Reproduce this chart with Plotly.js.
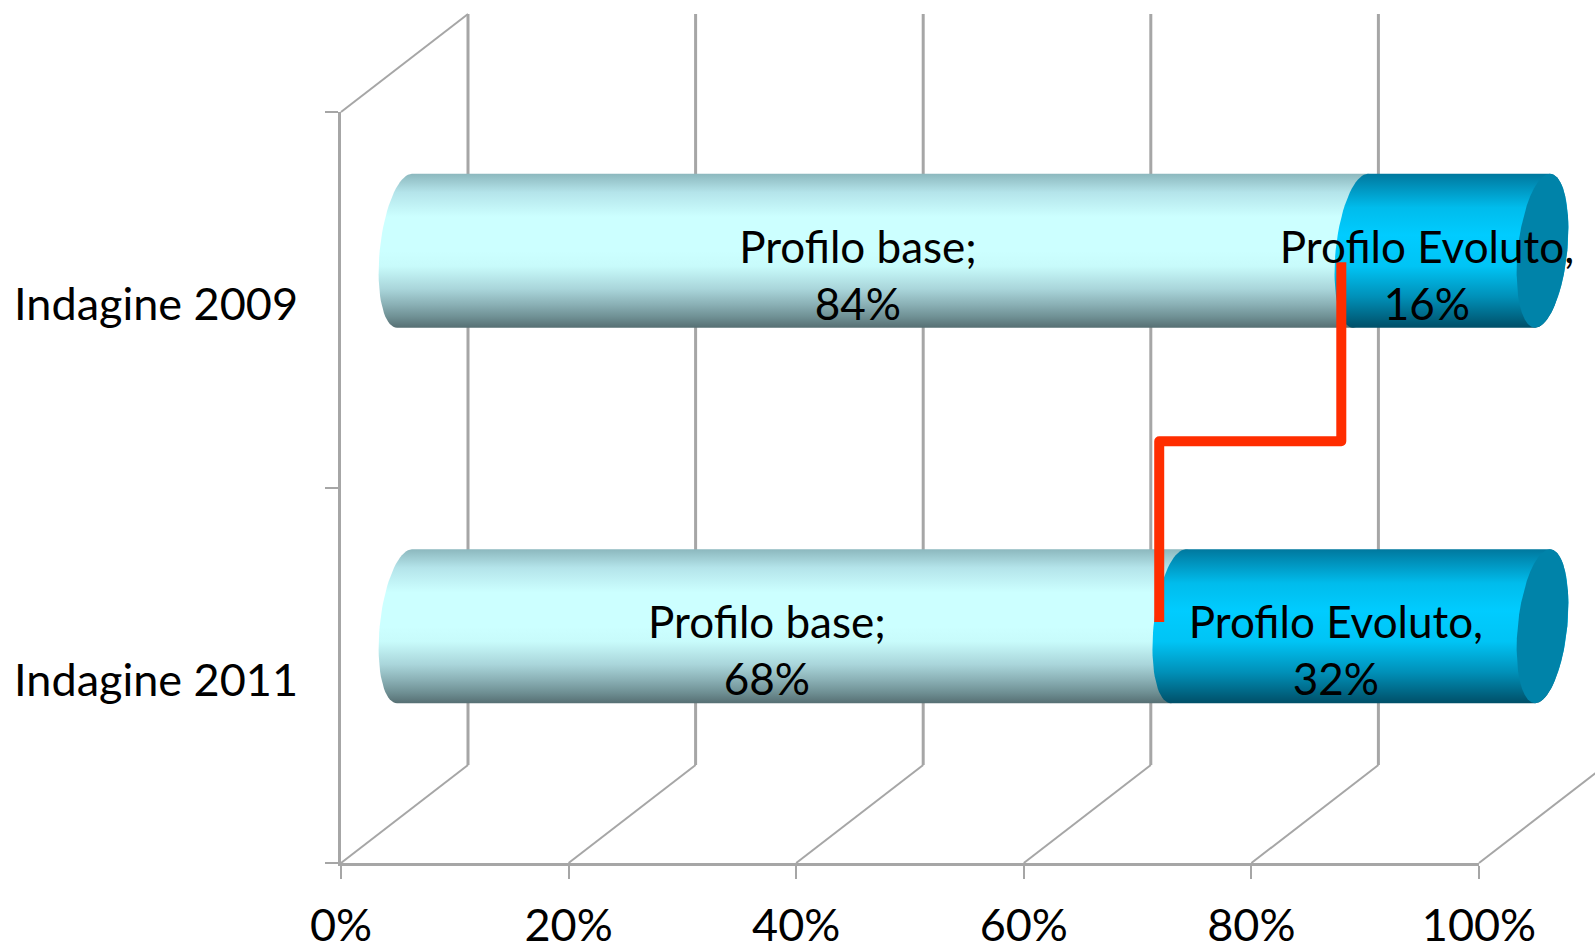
<!DOCTYPE html>
<html>
<head>
<meta charset="utf-8">
<script src="https://cdn.plot.ly/plotly-3.0.1.min.js"></script>
<style>
html,body{margin:0;padding:0;background:#fff}
#chart{width:1595px;height:942px}
.scatterlayer .js-line{stroke-linejoin:round !important}
</style>
</head>
<body>
<div id="chart"></div>
<script>
// Survey results, one entry per survey year (bottom row first)
const categories = ['Indagine 2011', 'Indagine 2009'];
const profiloBase = [68, 84];
const profiloEvoluto = [32, 16];
const nameBase = 'Profilo base;';
const nameEvoluto = 'Profilo Evoluto,';
const xTickValues = [0, 20, 40, 60, 80, 100];
const xTickLabels = ['0%', '20%', '40%', '60%', '80%', '100%'];

// Step line joining the two surveys, in axis units
const stepX = [87.9, 87.9, 71.9, 71.9];
const stepY = [1.6, 1.123, 1.123, 0.642];

const GRID = '#a6a6a6';
const FONT = 'Lato, sans-serif';

// Page-wide canvas axes share their scale with the visible axes
const PX_PER_PCT = 11.38, PX_PER_ROW = 375.5;
const ORIGIN_X = 341, ORIGIN_Y = 863, W = 1595, H = 942;

// Oblique projection of the chart's depth, in axis units
const DEPTH_X = 11.16, DEPTH_Y = 0.261;
// Cylinder cross-section, in axis units
const RADIUS_Y = 0.205, RADIUS_X = 2.18, SKEW_X = 0.65;
const LABEL_DX = 3.43, LABEL_DY = 0.052;

const LIGHT_SCALE = [[0, '#566f73'], [0.07, '#6f9094'], [0.15, '#8ab0b5'], [0.25, '#a9d5da'], [0.4, '#c8fbfb'], [0.5, '#ccffff'], [0.72, '#ccffff'], [0.88, '#b4e4ea'], [1, '#8cb8be']];
const BLUE_SCALE = [[0, '#004f68'], [0.2, '#0090b8'], [0.4, '#00c4f5'], [0.6, '#00ccff'], [0.78, '#00bcec'], [1, '#00789e']];

function arc(cx, cy, from, to) {
  const xs = [], ys = [];
  for (let i = 0; i <= 40; i++) {
    const t = (from + (to - from) * i / 40) * Math.PI / 180;
    xs.push(cx + RADIUS_X * Math.cos(t) + SKEW_X * Math.sin(t));
    ys.push(cy + RADIUS_Y * Math.sin(t));
  }
  return [xs, ys];
}

function segment(start, value, row, scale) {
  const cy = row + 0.5 + DEPTH_Y / 2;
  const left = arc(start + DEPTH_X / 2, cy, 90, 270);
  const right = arc(start + value + DEPTH_X / 2, cy, 270, 450);
  return {
    type: 'scatter', mode: 'lines', hoverinfo: 'skip',
    x: left[0].concat(right[0]), y: left[1].concat(right[1]),
    line: {width: 0}, fill: 'toself',
    fillgradient: {type: 'vertical', colorscale: scale}
  };
}

function endCap(position, row) {
  const cy = row + 0.5 + DEPTH_Y / 2;
  const ring = arc(position + DEPTH_X / 2, cy, 0, 360);
  return {
    type: 'scatter', mode: 'lines', hoverinfo: 'skip',
    x: ring[0], y: ring[1], line: {width: 0}, fill: 'toself', fillcolor: '#0083a9'
  };
}

// Back wall verticals and floor diagonals, broken by nulls
const wallX = [], wallY = [], floorX = [], floorY = [];
xTickValues.forEach(v => {
  wallX.push(v + DEPTH_X, v + DEPTH_X, null);
  wallY.push(DEPTH_Y, 2 + DEPTH_Y, null);
  floorX.push(v, v + DEPTH_X, null);
  floorY.push(0, DEPTH_Y, null);
});
floorX.push(0, DEPTH_X);
floorY.push(2, 2 + DEPTH_Y);

const traces = [
  {type: 'scatter', mode: 'lines', hoverinfo: 'skip', x: wallX, y: wallY, line: {color: GRID, width: 3}},
  {type: 'scatter', mode: 'lines', hoverinfo: 'skip', x: floorX, y: floorY, line: {color: GRID, width: 2}}
];

categories.forEach((c, row) => {
  const base = profiloBase[row], evoluto = profiloEvoluto[row];
  traces.push(segment(0, base, row, LIGHT_SCALE));
  traces.push(segment(base, evoluto, row, BLUE_SCALE));
  traces.push(endCap(base + evoluto, row));
});

traces.push({
  type: 'scatter', mode: 'lines', hoverinfo: 'skip',
  x: stepX, y: stepY, line: {color: '#ff2d00', width: 10, shape: 'linear'}
});

const labelX = [], labelY = [], labelText = [];
categories.forEach((c, row) => {
  const base = profiloBase[row], evoluto = profiloEvoluto[row];
  labelX.push(base / 2 + LABEL_DX, base + evoluto / 2 + LABEL_DX);
  labelY.push(row + 0.5 + LABEL_DY, row + 0.5 + LABEL_DY);
  labelText.push(nameBase + '<br>' + base + '%', nameEvoluto + '<br>' + evoluto + '%');
});
// Labels sit on the visible axes, so they stay above the cylinders
traces.push({
  type: 'scatter', mode: 'text', cliponaxis: false, hoverinfo: 'skip',
  xaxis: 'x2', yaxis: 'y2',
  x: labelX, y: labelY, text: labelText, textposition: 'middle center',
  textfont: {family: FONT, size: 44, color: '#000'}
});

const layout = {
  width: W, height: H, showlegend: false,
  margin: {l: 0, r: 0, t: 0, b: 0, pad: 0},
  paper_bgcolor: '#fff', plot_bgcolor: 'rgba(0,0,0,0)',
  font: {family: FONT, size: 45, color: '#000'},
  xaxis: {
    domain: [0, 1], range: [-ORIGIN_X / PX_PER_PCT, (W - ORIGIN_X) / PX_PER_PCT],
    visible: false, fixedrange: true
  },
  yaxis: {
    domain: [0, 1], range: [-(H - ORIGIN_Y) / PX_PER_ROW, ORIGIN_Y / PX_PER_ROW],
    visible: false, fixedrange: true
  },
  xaxis2: {
    anchor: 'y2',
    domain: [ORIGIN_X / W, (ORIGIN_X + 100 * PX_PER_PCT) / W], range: [0, 100], fixedrange: true,
    tickmode: 'array', tickvals: xTickValues, ticktext: xTickLabels,
    ticks: 'outside', ticklen: 13, tickwidth: 2, tickcolor: GRID,
    ticklabelstandoff: 8,
    showline: true, linecolor: GRID, linewidth: 3, showgrid: false, zeroline: false
  },
  yaxis2: {
    anchor: 'x2',
    domain: [(H - ORIGIN_Y) / H, (H - ORIGIN_Y + 2 * PX_PER_ROW) / H], range: [0, 2], fixedrange: true,
    tickmode: 'array', tickvals: [0.487, 1.487], ticktext: categories,
    ticks: '', ticklabelstandoff: 31,
    minor: {tickmode: 'array', tickvals: [0, 1, 2], ticks: 'outside', ticklen: 13, tickwidth: 2, tickcolor: GRID, showgrid: false},
    showline: true, linecolor: GRID, linewidth: 3, showgrid: false, zeroline: false
  }
};

Plotly.newPlot('chart', traces, layout, {displayModeBar: false, responsive: false});
</script>
</body>
</html>
